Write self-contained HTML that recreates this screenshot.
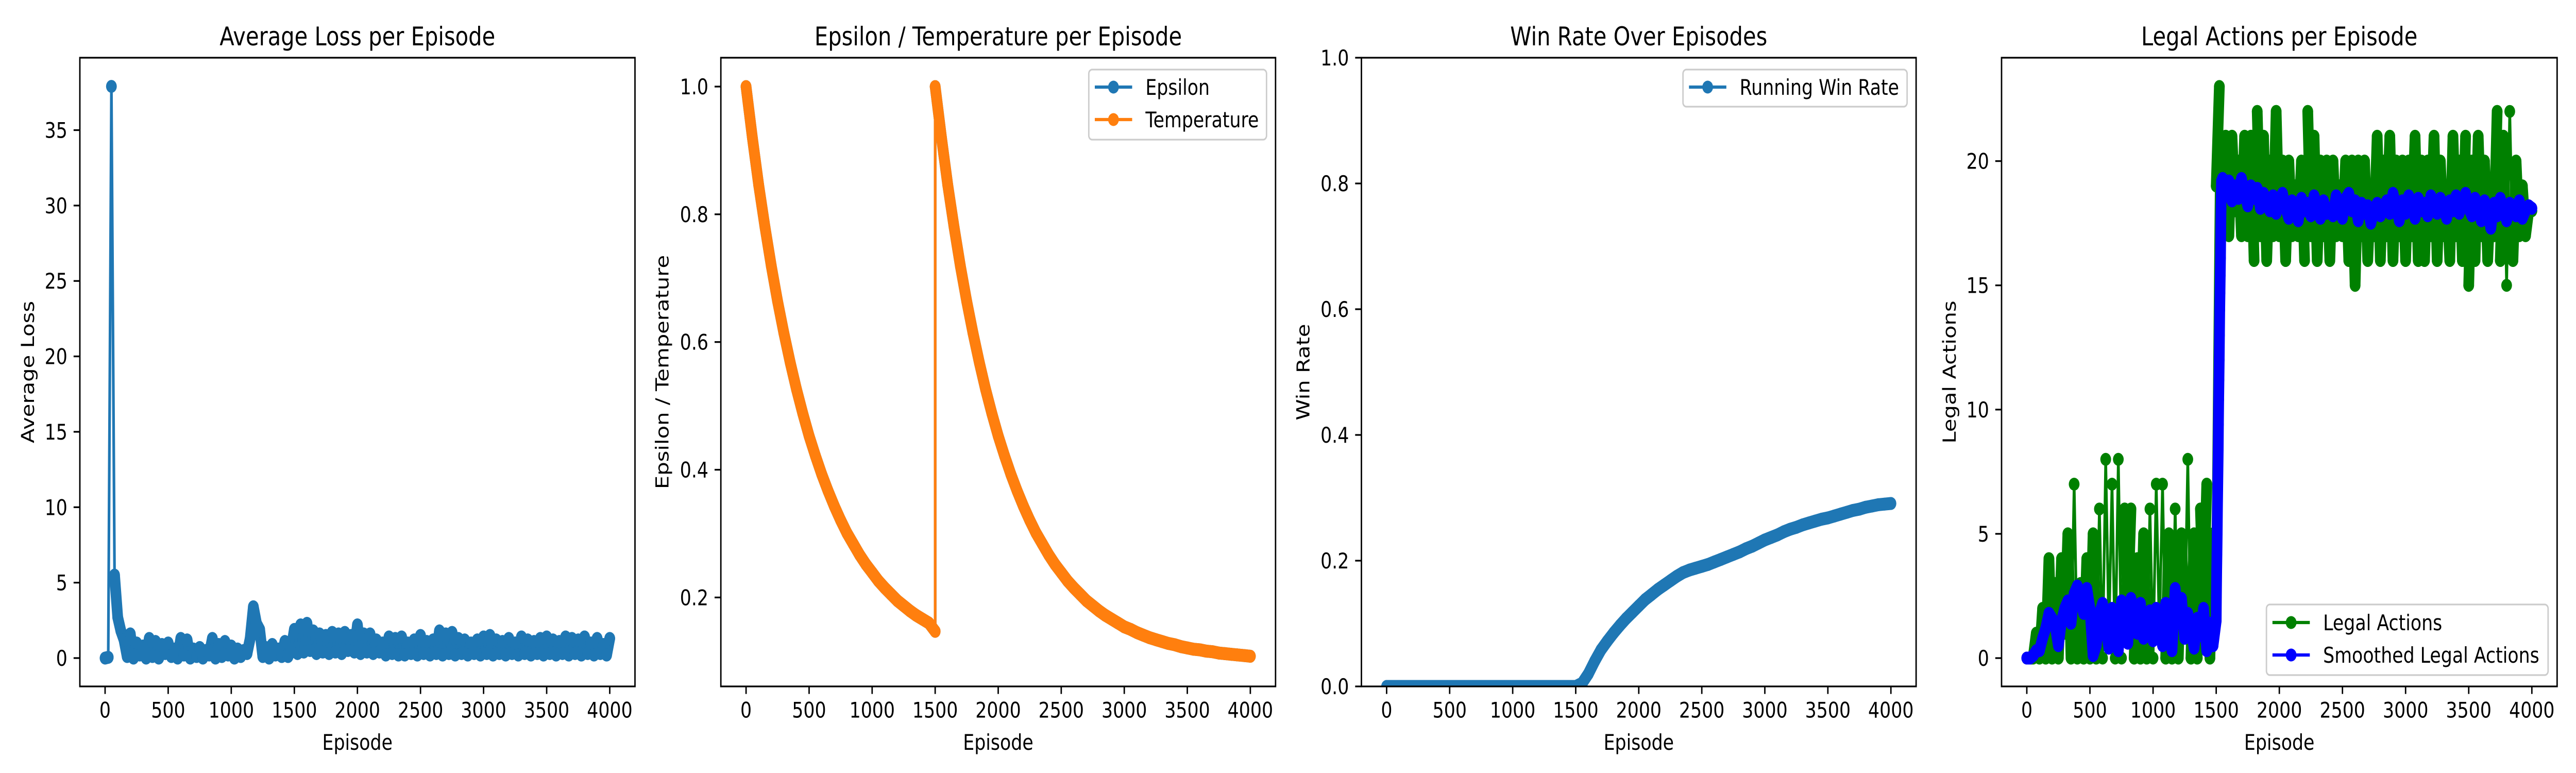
<!DOCTYPE html>
<html><head><meta charset="utf-8"><style>
html,body{margin:0;padding:0;background:#fff;overflow:hidden;}
#fig{display:block;width:100vw;height:100vh;}
svg text{font-family:"DejaVu Sans","Liberation Sans",sans-serif;fill:#000;}
</style></head><body>
<svg id="fig" xmlns="http://www.w3.org/2000/svg" viewBox="0 0 6000 1500" preserveAspectRatio="none"></svg>
<script>
// ---- data ----
const lossValues = [0,0.05,37.9,5.5,2.7,1.8,1.2,
0.1,1.6,0.0,1.0,0.2,0.8,0.0,1.3,0.1,1.1, 0.0,0.9,0.3,1.0,0.1,0.6,0.0,1.3,0.2,1.2,
0.0,0.6,0.1,0.7,0.0,0.5,0.2,1.3,0.0,0.9, 0.1,1.1,0.2,0.8,0.0,0.6,0.1,0.5,0.3,1.3,
3.4,2.3,1.9,0.1,0.7,0.0,0.9,0.2,0.6,0.1, 1.1,0.1,0.6,
1.9,0.3,2.2,0.4,2.3,0.5,1.8,0.3,1.6,0.4, 1.5,0.3,1.7,0.4,1.6,0.3,1.7,0.5,1.5,0.4, 2.2,0.3,1.6,0.4,1.6,0.3,1.2,0.4,1.0,
0.2,1.4,0.3,1.3,0.2,1.4,0.2,1.0,0.3,1.2, 0.2,1.5,0.3,1.1,0.2,1.2,0.3,1.8,0.2,1.6, 0.3,1.7,0.2,1.3,0.3,1.2,0.2,1.0,0.3,1.2,
0.2,1.4,0.3,1.5,0.2,1.2,0.3,1.1,0.2,1.3, 0.3,1.0,0.2,1.4,0.3,1.2,0.2,1.1,0.3,1.3, 0.2,1.4,0.3,1.2,0.2,1.1,0.3,1.4,0.2,1.3,
0.3,1.2,0.2,1.4,0.3,1.0,0.2,1.3,0.3,0.9,0.2,1.3];
const lossStep = 25;

const tempEpisodes = [0,50,100,150,200,250,300,350,400,450,500,550,600,650,700,750,800,850,900,950,1000,1050,1100,1150,1200,1250,1300,1350,1400,1450,1500,
1500,1550,1600,1650,1700,1750,1800,1850,1900,1950,2000,2050,2100,2150,2200,2250,2300,2350,2400,2450,2500,2550,2600,2650,2700,2750,2800,2850,2900,2950,3000,3050,3100,3150,3200,3250,3300,3350,3400,3450,3500,3550,3600,3650,3700,3750,3800,3850,3900,3950,4000];
const tempValues = [1.000,0.920,0.846,0.780,0.719,0.664,0.614,0.568,0.526,0.488,0.453,0.422,0.393,0.367,0.343,0.321,0.301,0.284,0.267,0.252,0.239,0.226,0.215,0.205,0.195,0.187,0.179,0.172,0.166,0.160,0.147,
1.000,0.920,0.846,0.780,0.719,0.664,0.614,0.568,0.526,0.488,0.453,0.422,0.393,0.367,0.343,0.321,0.301,0.284,0.267,0.252,0.239,0.226,0.215,0.205,0.195,0.187,0.179,0.172,0.166,0.160,0.154,0.150,0.145,0.141,0.137,0.134,0.131,0.128,0.126,0.123,0.121,0.119,0.118,0.116,0.115,0.113,0.112,0.111,0.110,0.109,0.108];
const epsilonValues = tempValues.slice();

const winStep = 50;
const winValues = [0,0,0,0,0,0,0,0,0,0,0,0,0,0,0,0,0,0,0,0,0,0,0,0,0,0,0,0,0,0,0,
0.005,0.02,0.04,0.058,0.072,0.085,0.097,0.108,0.118,0.128,0.138,0.146,0.154,0.161,0.168,0.175,0.181,0.185,0.188,0.191,
0.194,0.198,0.202,0.206,0.210,0.214,0.219,0.223,0.228,0.233,0.237,0.241,0.246,0.250,0.253,0.257,0.260,0.263,0.266,0.268,
0.271,0.274,0.277,0.280,0.282,0.285,0.287,0.289,0.290,0.291];

const legalStep = 25;
const legalValues = [0,0,0,1,0,2,0,4,0,3, 0,4,1,5,0,7,0,3,0,4, 0,5,0,6,0,8,1,7,0,8, 0,6,2,6,0,4,0,5,0,6, 0,7,1,7,0,5,0,6,0,5, 1,8,0,5,0,6,2,7,0,5,
19,23,
17,21,17,21,18,20,17,21,17,21, 16,22,17,21,16,20,17,22,17,20, 16,20,17,19,17,20,16,22,17,21, 16,20,17,20,16,20,17,19,17,20,
16,20,15,20,17,20,16,19,17,21, 16,20,17,21,16,20,17,20,16,20, 17,21,16,20,16,20,17,21,16,20, 17,19,16,21,17,20,16,21,15,20,
16,21,17,20,16,19,17,22,16,21, 15,22,16,20,17,19,17,18,18];

const smoothEarly = [0,0,0.1,0.3,0.3,0.8,1.2,1.8,1.6,1.3, 0.5,1.5,2.0,2.3,1.4,2.6,2.9,2.4,1.8,2.8, 2.0,0.1,0.5,1.8,2.2,1.2,0.4,2.0,1.6,0.3,
2.3,1.4,0.6,2.4,1.8,1.0,2.2,0.8,1.5,1.9, 0.7,2.0,1.2,0.5,2.2,1.0,0.3,2.8,1.5,2.4, 0.8,1.8,1.2,0.4,1.6,0.9,2.0,0.3,1.4,0.5];
const rampEpisodes = [1500,1502,1504,1506,1508,1510,1512,1514,1516,1518,1520,1522,1524,1526,1528,1530,1532,1534,1536,1538,1540,1542];
const rampValues = [1.5,2.5,3.5,4.2,5.0,6.0,6.8,7.6,8.4,9.4,10.4,11.2,12.0,13.0,14.0,14.7,15.4,16.1,17.1,18.0,18.6,19.2];
const smoothLate = [19.3,18.6,19.2,18.4,19.0,18.5,19.3,18.7,18.2,19.0, 18.5,18.9,18.1,18.7,18.3,18.0,18.6,17.9,18.4,18.7,
18.1,17.7,18.4,18.2,17.6,18.5,18.0,18.3,17.8,18.6, 18.2,17.7,18.4,17.9,18.1,17.8,18.6,18.3,17.7,18.5,
18.7,18.0,18.4,17.6,18.3,17.9,18.2,17.5,18.0,18.3, 17.8,18.1,18.4,17.9,18.7,18.2,17.6,18.4,17.9,18.6,
18.3,17.7,18.5,18.0,18.3,17.8,18.6,18.1,17.9,18.5, 18.2,17.7,18.4,18.0,18.6,17.9,18.3,18.7,18.1,17.8,
18.5,18.2,17.6,18.4,18.0,17.3,18.3,17.8,18.5,18.0, 17.6,18.3,18.1,17.8,18.4,17.7,18.0,18.2,18.1];

const xTicks = [0,500,1000,1500,2000,2500,3000,3500,4000];
const lossTicks = [0,5,10,15,20,25,30,35];
const tempTicks = [0.2,0.4,0.6,0.8,1.0];
const winTicks = [0.0,0.2,0.4,0.6,0.8,1.0];
const legalTicks = [0,5,10,15,20];

// ---- drawing ----
const NS = "http://www.w3.org/2000/svg";
const svg = document.getElementById('fig');
function el(tag, attrs, parent){
  const e = document.createElementNS(NS, tag);
  for (const k in attrs) e.setAttribute(k, attrs[k]);
  (parent||svg).appendChild(e);
  return e;
}
const TOP=112, BOT=1332, FS=41.7;

function makeAxes(id, left, right, xmin, xmax, ymin, ymax){
  const g = el('g', {});
  
  
  const sx = v => left + (v - xmin) / (xmax - xmin) * (right - left);
  const sy = v => BOT - (v - ymin) / (ymax - ymin) * (BOT - TOP);
  const cp = el('clipPath', {id: 'clip-' + id}, g);
  el('rect', {x:left, y:TOP, width:right-left, height:BOT-TOP}, cp);
  const plot = el('g', {'clip-path': 'url(#clip-' + id + ')'}, g);
  
  
  return {g, plot, sx, sy, left, right};
}
function finishAxes(ax, yTicks, yFmt, title, ylabel, ylabelX){
  const {g, sx, sy, left, right} = ax;
  const frame = el('rect', {x:left, y:TOP, width:right-left, height:BOT-TOP, fill:'none', stroke:'#000', 'stroke-width':3.3}, g);
  
  
  xTicks.forEach(t => {
    const x = sx(t);
    el('line', {x1:x, x2:x, y1:BOT, y2:BOT+14.6, stroke:'#000', 'stroke-width':3.3}, g);
    const tx = el('text', {x:x, y:BOT+29+FS*0.76, 'font-size':FS, 'text-anchor':'middle'}, g);
    
    
    tx.textContent = String(t);
  });
  yTicks.forEach(t => {
    const y = sy(t);
    el('line', {x1:left-14.6, x2:left, y1:y, y2:y, stroke:'#000', 'stroke-width':3.3}, g);
    const tx = el('text', {x:left-29, y:y+FS*0.36, 'font-size':FS, 'text-anchor':'end'}, g);
    
    
    tx.textContent = yFmt(t);
  });
  const cx = (left+right)/2;
  const tt = el('text', {x:cx, y:88, 'font-size':50, 'text-anchor':'middle'}, g);
  
  
  tt.textContent = title;
  const xl = el('text', {x:cx, y:1455, 'font-size':FS, 'text-anchor':'middle'}, g);
  
  
  xl.textContent = 'Episode';
  const yl = el('text', {x:0, y:0, 'font-size':FS, 'text-anchor':'middle', transform:'translate(' + (ylabelX+15) + ',' + ((TOP+BOT)/2) + ') rotate(-90)'}, g);
  
  
  yl.textContent = ylabel;
}
// band: max pixel segment length rendered as a thick band (dense overlapping markers in original)
function series(ax, xs, ys, color, name, bandMax){
  const sg = el('g', {}, ax.plot);
  
  
  const P = xs.map((x,i) => [ax.sx(x), ax.sy(ys[i])]);
  const pts = P.map(p => p[0].toFixed(1) + ',' + p[1].toFixed(1)).join(' ');
  if (bandMax > 0) {
    let d = '';
    for (let i = 1; i < P.length; i++) {
      const dx = P[i][0]-P[i-1][0], dy = P[i][1]-P[i-1][1];
      if (Math.hypot(dx, dy) <= bandMax) d += 'M' + P[i-1][0].toFixed(1) + ',' + P[i-1][1].toFixed(1) + 'L' + P[i][0].toFixed(1) + ',' + P[i][1].toFixed(1);
    }
    if (d) el('path', {d:d, fill:'none', stroke:color, 'stroke-width':25, 'stroke-linecap':'round'}, sg);
  }
  el('polyline', {points:pts, fill:'none', stroke:color, 'stroke-width':6.25, 'stroke-linejoin':'round'}, sg);
  xs.forEach((x,i) => {
    const c = el('circle', {cx:P[i][0].toFixed(1), cy:P[i][1].toFixed(1), r:12.5, fill:color}, sg);
    
    
  });
}
function legend(x, y, w, h, entries, name){
  const lg = el('g', {});
  
  
  el('rect', {x:x, y:y, width:w, height:h, rx:8, fill:'#fff', 'fill-opacity':0.8, stroke:'#ccc', 'stroke-width':3.3}, lg);
  entries.forEach((e,i) => {
    const ey = e.y;
    el('line', {x1:x+14, x2:x+101, y1:ey, y2:ey, stroke:e.color, 'stroke-width':6.25}, lg);
    el('circle', {cx:x+57.5, cy:ey, r:12.5, fill:e.color}, lg);
    const t = el('text', {x:x+132, y:ey+FS*0.36, 'font-size':FS}, lg);
    
    
    t.textContent = e.label;
  });
}

// Panel 1: loss
const ax1 = makeAxes('loss', 186, 1479, -200, 4200, -1.88, 39.8);
series(ax1, lossValues.map((v,i) => i*lossStep), lossValues, '#1f77b4', 'loss-series', 100);
finishAxes(ax1, lossTicks, v => String(v), 'Average Loss per Episode', 'Average Loss', 64);

// Panel 2: epsilon / temperature
const ax2 = makeAxes('epsilon', 1679, 2971, -200, 4200, 0.0607, 1.0452);
series(ax2, tempEpisodes, epsilonValues, '#1f77b4', 'epsilon-series', 300);
series(ax2, tempEpisodes, tempValues, '#ff7f0e', 'temperature-series', 300);
finishAxes(ax2, tempTicks, v => v.toFixed(1), 'Epsilon / Temperature per Episode', 'Epsilon / Temperature', 1542);
legend(2536, 135, 414, 136, [{label:'Epsilon', color:'#1f77b4', y:169},{label:'Temperature', color:'#ff7f0e', y:232}], 'epsilon-legend');

// Panel 3: win rate
const ax3 = makeAxes('winrate', 3171, 4463, -200, 4200, 0, 1);
series(ax3, winValues.map((v,i) => i*winStep), winValues, '#1f77b4', 'win-rate-series', 300);
finishAxes(ax3, winTicks, v => v.toFixed(1), 'Win Rate Over Episodes', 'Win Rate', 3035);
legend(3920, 135, 522, 72, [{label:'Running Win Rate', color:'#1f77b4', y:169}], 'win-rate-legend');

// Panel 4: legal actions
const ax4 = makeAxes('legal', 4662, 5956, -200, 4200, -1.14, 24.16);
series(ax4, legalValues.map((v,i) => i*legalStep), legalValues, 'green', 'legal-actions-series', 250);
const smoothEpisodes = smoothEarly.map((v,i) => i*25).concat(rampEpisodes, smoothLate.map((v,i) => 1550 + i*25));
const smoothValues = smoothEarly.concat(rampValues, smoothLate);
series(ax4, smoothEpisodes, smoothValues, 'blue', 'smoothed-legal-actions-series', 200);
finishAxes(ax4, legalTicks, v => String(v), 'Legal Actions per Episode', 'Legal Actions', 4540);
legend(5279, 1173, 656, 137, [{label:'Legal Actions', color:'green', y:1208},{label:'Smoothed Legal Actions', color:'blue', y:1271}], 'legal-actions-legend');
</script>
</body></html>
